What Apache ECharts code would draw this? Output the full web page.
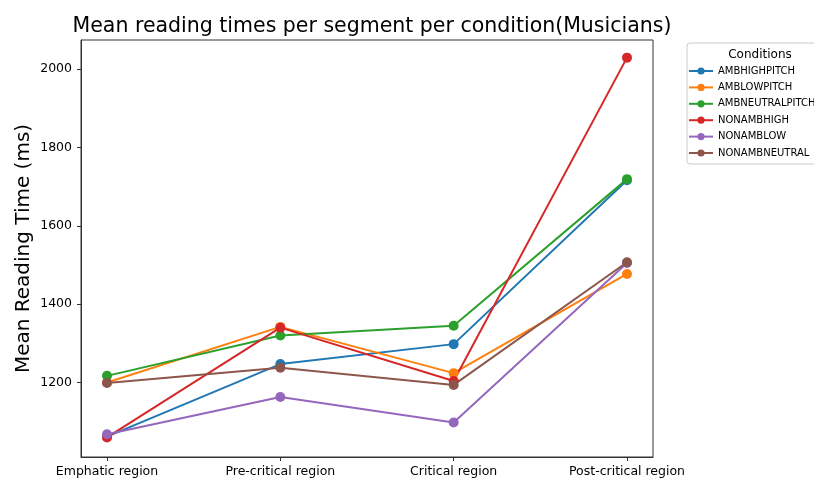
<!DOCTYPE html>
<html>
<head>
<meta charset="utf-8">
<script src="https://cdn.jsdelivr.net/npm/echarts@6/dist/echarts.min.js"></script>
<style>
    html, body { margin: 0; padding: 0; background: #fff; }
    #chart { width: 814px; height: 480px; }
</style>
</head>
<body>
<div id="chart"></div>
<script>
    // segments on the x axis
    var segments = ['Emphatic region', 'Pre-critical region', 'Critical region', 'Post-critical region'];
    var conditions = ['AMBHIGHPITCH', 'AMBLOWPITCH', 'AMBNEUTRALPITCH', 'NONAMBHIGH', 'NONAMBLOW', 'NONAMBNEUTRAL'];
    var colors = ['#1f77b4', '#ff7f0e', '#2ca02c', '#d62728', '#9467bd', '#8c564b'];

    // mean reading times (ms), one array per condition
    var ambHighPitch    = [1062, 1247, 1298, 1716];
    var ambLowPitch     = [1200, 1342, 1224, 1477];
    var ambNeutralPitch = [1217, 1320, 1345, 1719];
    var nonAmbHigh      = [1060, 1340, 1204, 2029];
    var nonAmbLow       = [1068, 1163, 1098, 1505];
    var nonAmbNeutral   = [1199, 1238, 1194, 1507];
    var yTicks = [1200, 1400, 1600, 1800, 2000];

    var allData = [ambHighPitch, ambLowPitch, ambNeutralPitch, nonAmbHigh, nonAmbLow, nonAmbNeutral];
    var font = 'DejaVu Sans';

    var series = conditions.map(function (name, i) {
        return {
            name: name,
            type: 'line',
            data: allData[i].map(function (v, k) { return [k, v]; }),
            symbol: 'circle',
            symbolSize: 10,
            lineStyle: { width: 2, color: colors[i] },
            itemStyle: { color: colors[i] },
            emphasis: { disabled: true }
        };
    });

    var chart = echarts.init(document.getElementById('chart'));
    chart.setOption({
        animation: false,
        textStyle: { fontFamily: font },
        title: [
            {
                text: 'Mean reading times per segment per condition(Musicians)',
                left: 367, top: 11, textAlign: 'center',
                textStyle: { fontFamily: font, fontSize: 20.5, fontWeight: 'normal', color: '#000' }
            },
            {
                text: 'Conditions',
                left: 755, top: 44, textAlign: 'center',
                textStyle: { fontFamily: font, fontSize: 12, fontWeight: 'normal', color: '#000' }
            }
        ],
        legend: {
            orient: 'vertical',
            left: 687, top: 43,
            padding: [23, 6, 6, 1],
            borderColor: '#ccc', borderWidth: 1, borderRadius: 3,
            backgroundColor: '#fff',
            itemWidth: 24, itemHeight: 9, itemGap: 6.4,
            data: conditions,
            textStyle: { fontFamily: font, fontSize: 10, color: '#000' }
        },
        grid: {
            left: 81, right: 161, top: 40, bottom: 23,
            show: true, borderColor: '#333', borderWidth: 1
        },
        xAxis: {
            type: 'value',
            min: -0.15, max: 3.15,
            splitLine: { show: false },
            axisLine: { show: true, onZero: false, lineStyle: { color: '#333' } },
            axisTick: { show: true, length: 4, customValues: [0, 1, 2, 3], lineStyle: { color: '#333' } },
            axisLabel: {
                customValues: [0, 1, 2, 3],
                formatter: function (v) { return segments[Math.round(v)]; },
                fontSize: 12.5, color: '#000', margin: 8
            }
        },
        yAxis: {
            type: 'value',
            min: 1010, max: 2074,
            name: 'Mean Reading Time (ms)',
            nameLocation: 'middle', nameGap: 47,
            nameMoveOverlap: false,
            nameTextStyle: { fontFamily: font, fontSize: 20, color: '#000' },
            splitLine: { show: false },
            axisLine: { show: true, onZero: false, lineStyle: { color: '#333' } },
            axisTick: { show: true, length: 4, customValues: yTicks, lineStyle: { color: '#333' } },
            axisLabel: {
                customValues: yTicks,
                formatter: function (v) { return String(v); },
                fontSize: 12.5, color: '#000', margin: 9
            }
        },
        series: series
    });
</script>
</body>
</html>
